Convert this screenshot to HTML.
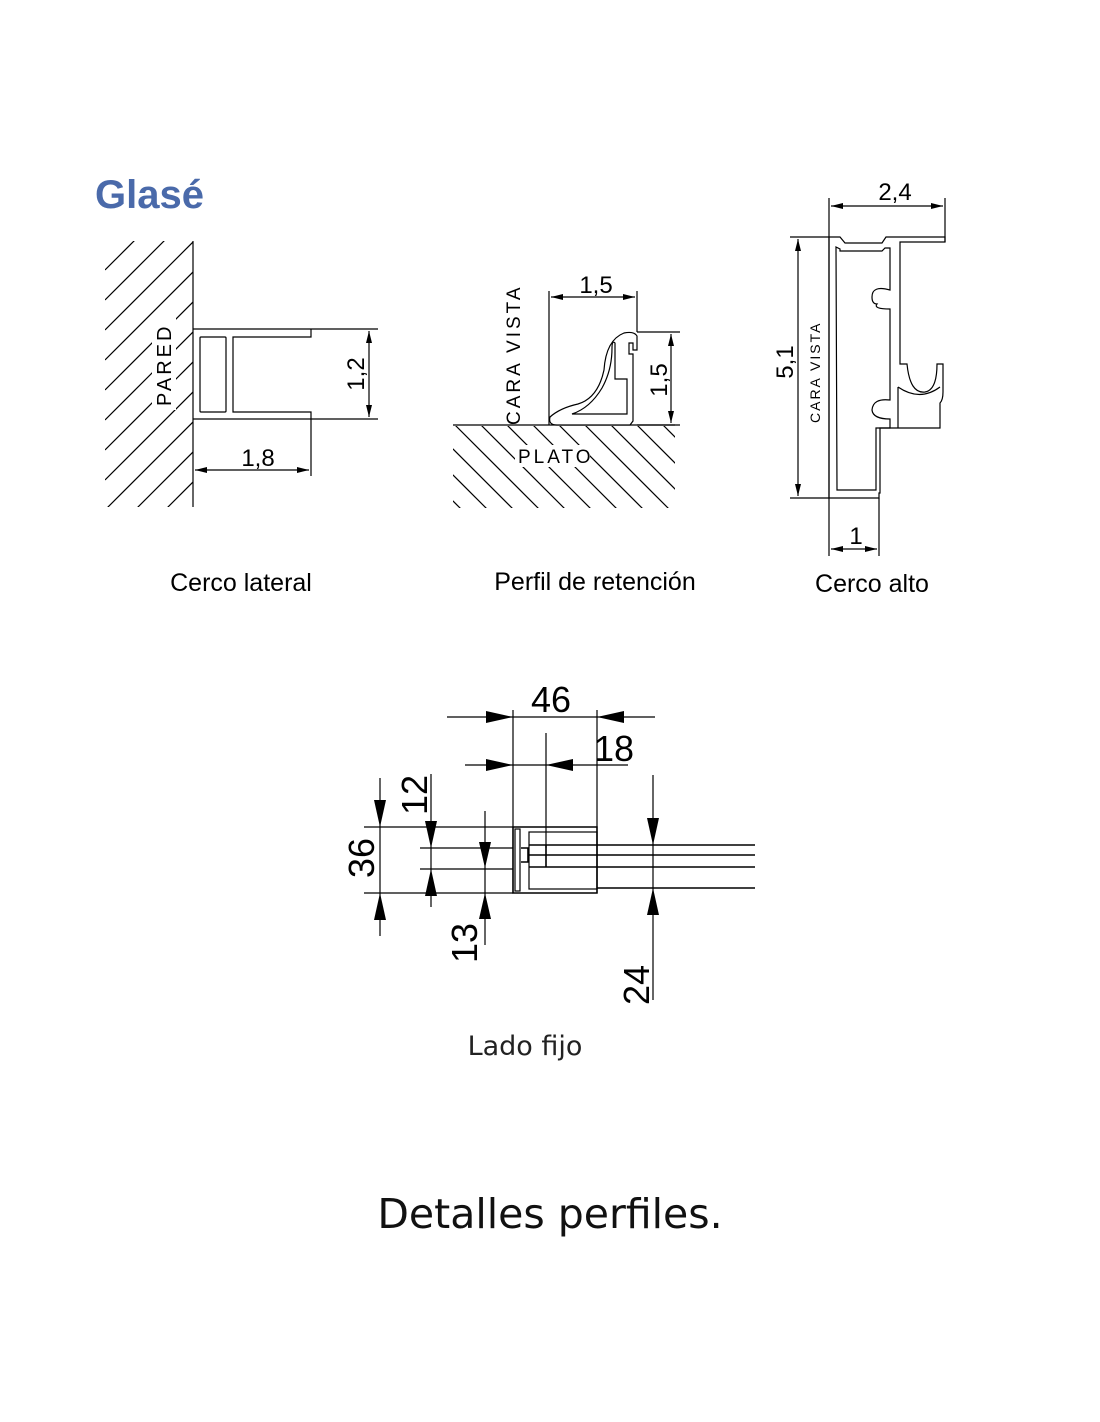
<!DOCTYPE html>
<html><head><meta charset="utf-8"><style>
html,body{margin:0;padding:0;background:#fff;}
svg{display:block}
</style></head><body>
<svg width="1100" height="1422" viewBox="0 0 1100 1422" xmlns="http://www.w3.org/2000/svg">
<defs>
<marker id="a" viewBox="0 0 12 6" refX="12" refY="3" markerWidth="12" markerHeight="6" markerUnits="userSpaceOnUse" orient="auto-start-reverse"><path d="M0,0L12,3L0,6z" fill="#000"/></marker>
<clipPath id="c1"><rect x="105" y="241" width="88" height="266"/></clipPath>
<clipPath id="c2"><rect x="453" y="426" width="222" height="82"/></clipPath>
</defs>
<text x="95" y="208" font-family="Liberation Sans, sans-serif" font-weight="bold" font-size="40" fill="#4a6aaa">Glasé</text>

<!-- Drawing 1 -->
<g stroke="#000" stroke-width="1.2" fill="none">
<g clip-path="url(#c1)">
<line x1="105" y1="300" x2="190" y2="215"/><line x1="105" y1="330" x2="195" y2="240"/><line x1="105" y1="360" x2="195" y2="270"/><line x1="105" y1="390" x2="195" y2="300"/><line x1="105" y1="420" x2="195" y2="330"/><line x1="105" y1="450" x2="195" y2="360"/><line x1="105" y1="480" x2="195" y2="390"/><line x1="105" y1="510" x2="195" y2="420"/><line x1="105" y1="540" x2="195" y2="450"/><line x1="105" y1="570" x2="195" y2="480"/><line x1="105" y1="600" x2="195" y2="510"/><line x1="105" y1="270" x2="190" y2="185"/>
</g>
<rect x="152" y="318" width="24" height="92" fill="#fff" stroke="none"/>
<line x1="193" y1="241" x2="193" y2="507"/>
<rect x="194" y="329" width="117" height="90" fill="#fff" stroke="none"/>
<path d="M193 329H378M311 329V337H233V412H311V419M193 419H378M311 419V476"/>
<rect x="200" y="337" width="26" height="75" rx="1"/>
<line x1="369" y1="331" x2="369" y2="417" marker-start="url(#a)" marker-end="url(#a)"/>
<line x1="195" y1="470" x2="309" y2="470" marker-start="url(#a)" marker-end="url(#a)"/>
</g>
<text x="0" y="0" transform="translate(171,406) rotate(-90)" font-family="Liberation Sans, sans-serif" font-size="20" letter-spacing="3" fill="#000">PARED</text>
<text x="0" y="0" transform="translate(364,374) rotate(-90)" text-anchor="middle" font-family="Liberation Sans, sans-serif" font-size="24" fill="#000">1,2</text>
<text x="258" y="466" text-anchor="middle" font-family="Liberation Sans, sans-serif" font-size="24" fill="#000">1,8</text>
<text x="241" y="591" text-anchor="middle" font-family="Liberation Sans, sans-serif" font-size="25" fill="#000">Cerco lateral</text>

<!-- Drawing 2 -->
<g stroke="#000" stroke-width="1.2" fill="none">
<g clip-path="url(#c2)">
<line x1="430" y1="400" x2="540" y2="510"/><line x1="456" y1="400" x2="566" y2="510"/><line x1="482" y1="400" x2="592" y2="510"/><line x1="508" y1="400" x2="618" y2="510"/><line x1="534" y1="400" x2="644" y2="510"/><line x1="560" y1="400" x2="670" y2="510"/><line x1="586" y1="400" x2="696" y2="510"/><line x1="612" y1="400" x2="722" y2="510"/><line x1="638" y1="400" x2="748" y2="510"/><line x1="404" y1="400" x2="514" y2="510"/><line x1="378" y1="400" x2="488" y2="510"/><line x1="352" y1="400" x2="462" y2="510"/>
</g>
<rect x="515" y="445" width="75" height="22" fill="#fff" stroke="none"/>
<line x1="453" y1="425" x2="675" y2="425"/>
<path d="M549 425V291M637 332V291M637 332H680M637 425H680"/>
<path d="M557 425 Q548 425 550 417 Q560 408 578 404 Q598 398 604 370 Q606 340 624 333 Q634 331 637 336 V350 H633 V343 H629 V354 H633 V364 L633 365 V421 L630 425 Z" fill="#fff"/>
<path d="M572 414 Q590 408 602 388 Q612 370 612 348 Q612 340 615 343 V379 H627 V414 Z"/>
<line x1="551" y1="297" x2="635" y2="297" marker-start="url(#a)" marker-end="url(#a)"/>
<line x1="671" y1="334" x2="671" y2="423" marker-start="url(#a)" marker-end="url(#a)"/>
</g>
<text x="0" y="0" transform="translate(520,425) rotate(-90)" font-family="Liberation Sans, sans-serif" font-size="19" letter-spacing="3" fill="#000">CARA VISTA</text>
<text x="518" y="463" font-family="Liberation Sans, sans-serif" font-size="19" letter-spacing="3" fill="#000">PLATO</text>
<text x="596" y="293" text-anchor="middle" font-family="Liberation Sans, sans-serif" font-size="24" fill="#000">1,5</text>
<text x="0" y="0" transform="translate(667,380) rotate(-90)" text-anchor="middle" font-family="Liberation Sans, sans-serif" font-size="24" fill="#000">1,5</text>
<text x="595" y="590" text-anchor="middle" font-family="Liberation Sans, sans-serif" font-size="25" fill="#000">Perfil de retención</text>

<!-- Drawing 3 -->
<g stroke="#000" stroke-width="1.2" fill="none">
<path d="M829 198V498M945 198V242M829 498V556M879 498V556M790 237H829M790 498H829"/>
<line x1="831" y1="206" x2="943" y2="206" marker-start="url(#a)" marker-end="url(#a)"/>
<line x1="798" y1="239" x2="798" y2="496" marker-start="url(#a)" marker-end="url(#a)"/>
<line x1="831" y1="549" x2="877" y2="549" marker-start="url(#a)" marker-end="url(#a)"/>
<path d="M829 237H840L845 243H882L886 237H945V242H900V364H907Q910 394 925 392Q937 390 937 364H943V392Q943 400 940 403V428H880V493H879V498H829Z"/>
<path d="M836 247L840 249V251H882L885 248H890V290Q872 285 872 297Q872 304 877 304Q873 309 890 309V400Q873 398 872 410Q873 419 890 419V428H876V490H837Z"/>
<path d="M898 387Q920 402 940 387M898 387V428"/>
</g>
<text x="0" y="0" transform="translate(793,362) rotate(-90)" text-anchor="middle" font-family="Liberation Sans, sans-serif" font-size="24" fill="#000">5,1</text>
<text x="0" y="0" transform="translate(820,423) rotate(-90)" font-family="Liberation Sans, sans-serif" font-size="14" letter-spacing="2" fill="#000">CARA VISTA</text>
<text x="895" y="200" text-anchor="middle" font-family="Liberation Sans, sans-serif" font-size="24" fill="#000">2,4</text>
<text x="856" y="544" text-anchor="middle" font-family="Liberation Sans, sans-serif" font-size="24" fill="#000">1</text>
<text x="872" y="592" text-anchor="middle" font-family="Liberation Sans, sans-serif" font-size="25" fill="#000">Cerco alto</text>

<!-- Bottom drawing -->
<g stroke="#000" stroke-width="1.2" fill="none">
<line x1="447" y1="717" x2="655" y2="717"/>
<line x1="465" y1="765" x2="628" y2="765"/>
<path d="M513 710V893M597 710V893M546 733V848"/>
<rect x="513" y="827" width="84" height="66" stroke-width="1.5"/>
<rect x="529" y="832" width="68" height="57"/>
<rect x="515" y="829" width="5" height="62"/>
<path d="M529 845H755M529 855H755M529 867H755M597 888H755M546 845V867M521 848H528V862H521" stroke-width="1.6"/>
<path d="M364 827H513M364 893H513M420 848H513M420 869H513"/>
<line x1="380" y1="778" x2="380" y2="936"/>
<line x1="431" y1="774" x2="431" y2="907"/>
<line x1="485" y1="811" x2="485" y2="945"/>
<line x1="653" y1="775" x2="653" y2="1000"/>
</g>
<g fill="#000">
<polygon points="513,717 486,711 486,723"/>
<polygon points="597,717 624,711 624,723"/>
<polygon points="513,765 486,759 486,771"/>
<polygon points="546,765 573,759 573,771"/>
<polygon points="380,827 374,800 386,800"/>
<polygon points="380,893 374,920 386,920"/>
<polygon points="431,848 425,821 437,821"/>
<polygon points="431,869 425,896 437,896"/>
<polygon points="485,868 479,842 491,842"/>
<polygon points="485,893 479,919 491,919"/>
<polygon points="653,845 647,818 659,818"/>
<polygon points="653,888 647,915 659,915"/>
</g>
<g font-family="Liberation Sans, sans-serif" font-size="36" fill="#000">
<text x="551" y="712" text-anchor="middle">46</text>
<text x="614" y="761" text-anchor="middle">18</text>
<text transform="translate(374,858) rotate(-90)" text-anchor="middle">36</text>
<text transform="translate(427,795) rotate(-90)" text-anchor="middle">12</text>
<text transform="translate(477,943) rotate(-90)" text-anchor="middle">13</text>
<text transform="translate(649,985) rotate(-90)" text-anchor="middle">24</text>
</g>
<text x="525" y="1055" text-anchor="middle" font-family="DejaVu Sans, sans-serif" font-size="27" fill="#222">Lado fijo</text>
<text x="550" y="1228" text-anchor="middle" font-family="DejaVu Sans, sans-serif" font-size="41" fill="#111">Detalles perfiles.</text>
</svg>
</body></html>
